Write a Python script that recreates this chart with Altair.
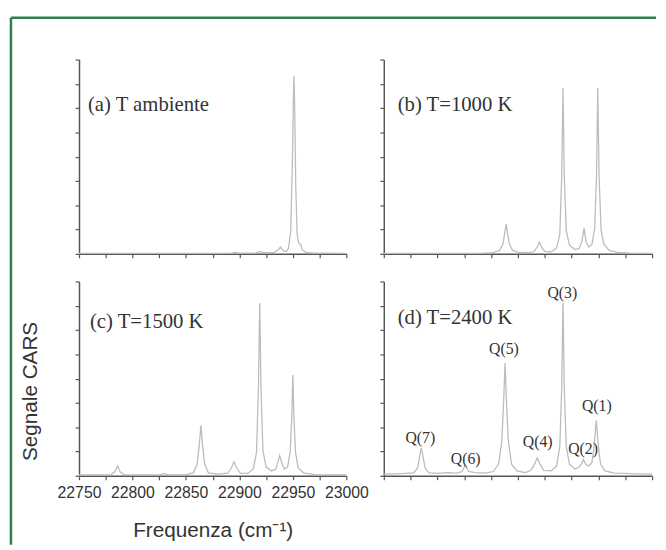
import altair as alt
import pandas as pd

# ---------------- data ----------------
X_TICKS = [22750, 22775, 22800, 22825, 22850, 22875, 22900, 22925, 22950, 22975, 23000]
Y_TICKS = [0, 0.125, 0.25, 0.375, 0.5, 0.625, 0.75, 0.875, 1.0]

FREQ_A = [22750, 22800, 22880, 22893, 22896, 22899, 22915, 22919, 22922, 22932, 22936,
          22938.5, 22941, 22944, 22946, 22948, 22949.5, 22950.5, 22951, 22951.7, 22952.7,
          22954, 22955.5, 22957, 22959, 22962, 22970, 22980, 23000]
SIG_A = [0.003, 0.003, 0.003, 0.004, 0.008, 0.004, 0.004, 0.012, 0.006, 0.006, 0.02,
         0.035, 0.015, 0.012, 0.03, 0.12, 0.45, 0.8, 0.915, 0.75, 0.35,
         0.1, 0.055, 0.05, 0.02, 0.008, 0.004, 0.004, 0.002]

FREQ_B = [22750, 22800, 22840, 22852, 22858, 22861, 22862.5, 22864, 22865.5, 22867, 22870,
          22876, 22885, 22890, 22893, 22895, 22897, 22900, 22906, 22911, 22914, 22915.8,
          22917, 22918.2, 22920, 22923, 22928, 22932, 22934.5, 22936.6, 22938.5, 22941,
          22944, 22946.5, 22948.2, 22949.4, 22950.6, 22952.5, 22955, 22960, 22968, 22980, 23000]
SIG_B = [0.002, 0.002, 0.003, 0.006, 0.018, 0.05, 0.1, 0.153, 0.1, 0.05, 0.018,
         0.007, 0.006, 0.012, 0.035, 0.06, 0.035, 0.013, 0.01, 0.03, 0.1, 0.4,
         0.853, 0.4, 0.12, 0.045, 0.022, 0.028, 0.06, 0.132, 0.06, 0.035,
         0.05, 0.13, 0.4, 0.853, 0.4, 0.12, 0.05, 0.018, 0.008, 0.004, 0.002]

FREQ_C = [22750, 22770, 22780, 22783.5, 22786, 22788.5, 22792, 22810, 22826, 22830, 22833,
          22850, 22857, 22860.5, 22862.5, 22864, 22865.5, 22867.5, 22871, 22880, 22889,
          22892.5, 22895, 22897.5, 22901, 22908, 22913, 22916, 22917.8, 22919, 22920.2,
          22922, 22925, 22930, 22934, 22936, 22937.7, 22939.4, 22942, 22945, 22947.5,
          22949, 22950, 22951, 22952.5, 22955, 22960, 22970, 23000]
SIG_C = [0.004, 0.005, 0.006, 0.02, 0.05, 0.02, 0.006, 0.005, 0.005, 0.012, 0.005,
         0.006, 0.015, 0.06, 0.16, 0.26, 0.16, 0.06, 0.015, 0.008, 0.013,
         0.04, 0.072, 0.04, 0.013, 0.012, 0.035, 0.12, 0.45, 0.889, 0.45,
         0.13, 0.045, 0.025, 0.035, 0.07, 0.104, 0.07, 0.035, 0.045, 0.12,
         0.3, 0.518, 0.3, 0.12, 0.04, 0.015, 0.006, 0.004]

FREQ_D = [22750, 22760, 22770, 22778, 22781.5, 22783.5, 22785, 22786.5, 22788.5, 22792,
          22800, 22810, 22818, 22823, 22826, 22829, 22835, 22845, 22852, 22857, 22860,
          22861.8, 22863, 22864.2, 22866, 22869, 22874, 22882, 22887, 22890.5, 22893,
          22895.5, 22899, 22906, 22911, 22914, 22915.8, 22917, 22918.2, 22920, 22923,
          22928, 22932, 22934, 22936, 22938, 22941, 22944, 22946, 22948, 22950, 22952,
          22956, 22965, 22975, 22985, 23000]
SIG_D = [0.008, 0.01, 0.012, 0.015, 0.04, 0.1, 0.143, 0.1, 0.04, 0.015,
         0.012, 0.016, 0.014, 0.022, 0.055, 0.022, 0.016, 0.014, 0.022, 0.06, 0.18,
         0.4, 0.58, 0.4, 0.18, 0.06, 0.025, 0.016, 0.028, 0.06, 0.092,
         0.06, 0.028, 0.025, 0.05, 0.15, 0.45, 0.89, 0.45, 0.15, 0.06,
         0.035, 0.045, 0.06, 0.084, 0.06, 0.05, 0.07, 0.15, 0.286, 0.15, 0.06,
         0.025, 0.014, 0.012, 0.01, 0.008]

PANEL_LABELS = ["(a) T ambiente", "(b) T=1000 K", "(c) T=1500 K", "(d) T=2400 K"]
PANEL_LABEL_X = [22758.3, 22762.9, 22760.2, 22762.9]
PANEL_LABEL_Y = [0.766, 0.766, 0.793, 0.813]

Q_LABELS = ["Q(7)", "Q(6)", "Q(5)", "Q(4)", "Q(3)", "Q(2)", "Q(1)"]
Q_X = [22784, 22826.3, 22862, 22893.4, 22916.4, 22935.7, 22948.5]
Q_Y = [0.192, 0.086, 0.65, 0.172, 0.94, 0.136, 0.359]

# ---------------- styling ----------------
LINE_COLOR = "#bcbcbc"
AXIS_COLOR = "#555555"
TEXT_COLOR = "#333333"
FRAME_COLOR = "#2e7d4e"
SANS = "Liberation Sans"
SERIF = "Liberation Serif"
W_LEFT, W_RIGHT, H = 271, 272, 197


def encodings(show_labels, y_title):
    if show_labels:
        xaxis = alt.Axis(
            values=X_TICKS,
            labelExpr="datum.value % 50 == 0 ? format(datum.value, 'd') : ''",
            labelFlush=False, labelOverlap=False, labelBound=False,
            labelPadding=5, labelFontSize=16, labelFont=SANS, labelColor=TEXT_COLOR,
            title="Frequenza (cm\u207b\u00b9)", titleFont=SANS, titleFontSize=21,
            titleFontWeight="normal", titleColor=TEXT_COLOR,
            titleX=135.5, titleY=56, titleAlign="center", titleBaseline="middle",
        )
    else:
        xaxis = alt.Axis(values=X_TICKS, labels=False, title=None)
    if y_title:
        yaxis = alt.Axis(
            values=Y_TICKS, labels=False,
            title="Segnale CARS", titleFont=SANS, titleFontSize=21,
            titleFontWeight="normal", titleColor=TEXT_COLOR,
            titleX=-49, titleY=111, titleAlign="center", titleBaseline="middle",
            titleAngle=270,
        )
    else:
        yaxis = alt.Axis(values=Y_TICKS, labels=False, title=None)
    x = alt.X("f:Q", scale=alt.Scale(domain=[22750, 23000], nice=False, zero=False), axis=xaxis)
    y = alt.Y("s:Q", scale=alt.Scale(domain=[0, 1], nice=False), axis=yaxis)
    return x, y


def panel(freq, sig, idx, width, show_labels=False, y_title=False, q=False, frame=False):
    x, y = encodings(show_labels, y_title)
    df = pd.DataFrame({"f": freq, "s": sig})
    line = alt.Chart(df).mark_line(color=LINE_COLOR, strokeWidth=1.3).encode(x=x, y=y)
    lab_df = pd.DataFrame({"f": [PANEL_LABEL_X[idx]], "s": [PANEL_LABEL_Y[idx]],
                           "t": [PANEL_LABELS[idx]]})
    lab = alt.Chart(lab_df).mark_text(
        font=SERIF, fontSize=21, color=TEXT_COLOR, align="left", baseline="middle"
    ).encode(x=x, y=y, text="t:N")
    layers = [line, lab]
    if q:
        q_df = pd.DataFrame({"f": Q_X, "s": Q_Y, "t": Q_LABELS})
        layers.append(alt.Chart(q_df).mark_text(
            font=SERIF, fontSize=16, color=TEXT_COLOR, align="center", baseline="middle"
        ).encode(x=x, y=y, text="t:N"))
    if frame:
        one = pd.DataFrame({"k": [0]})
        layers.append(alt.Chart(one).mark_rule(color=FRAME_COLOR, strokeWidth=2.5).encode(
            x=alt.value(-69), x2=alt.value(585), y=alt.value(-42.3)))
        layers.append(alt.Chart(one).mark_rule(color=FRAME_COLOR, strokeWidth=2.5).encode(
            x=alt.value(-69), y=alt.value(-42.3), y2=alt.value(492)))
    return alt.layer(*layers).properties(width=width, height=H)


pa = panel(FREQ_A, SIG_A, 0, W_LEFT, frame=True)
pb = panel(FREQ_B, SIG_B, 1, W_RIGHT)
pc = panel(FREQ_C, SIG_C, 2, W_LEFT, show_labels=True, y_title=True)
pd_ = panel(FREQ_D, SIG_D, 3, W_RIGHT, q=True)

chart = alt.concat(
    pa, pb, pc, pd_, columns=2, spacing={"row": 28, "column": 38}, bounds="flush"
).properties(
    padding={"left": 1, "top": 4.5, "right": 0, "bottom": 0},
    background="white",
).configure_view(strokeWidth=0).configure_axis(
    domainColor=AXIS_COLOR, tickColor=AXIS_COLOR, domainWidth=1.5, tickWidth=1.2,
    tickSize=4, grid=False,
)

chart.save("out.html", embed_options={"renderer": "svg", "actions": False})
